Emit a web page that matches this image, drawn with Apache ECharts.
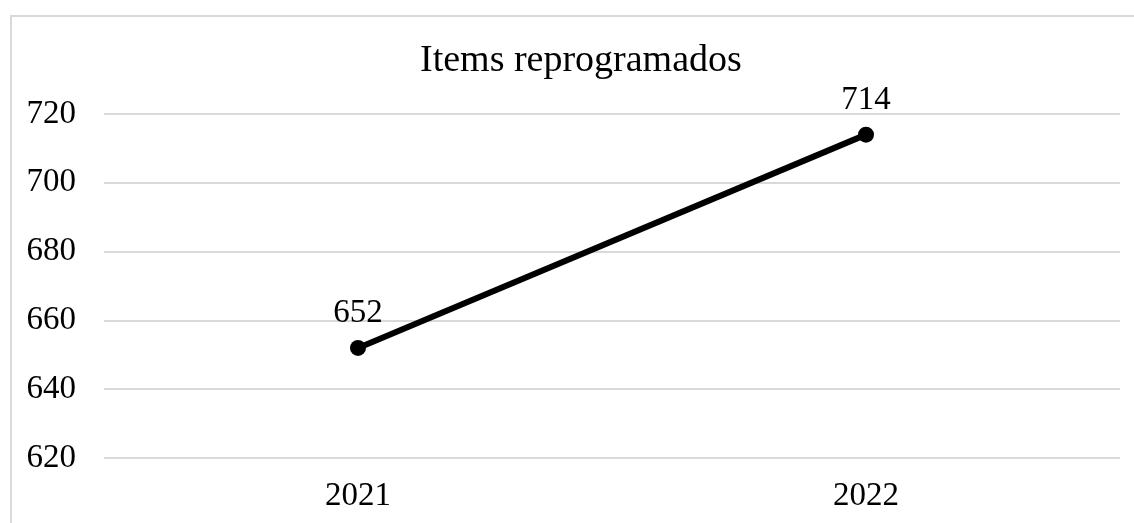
<!DOCTYPE html>
<html>
<head>
<meta charset="utf-8">
<script src="https://cdn.jsdelivr.net/npm/echarts@6/dist/echarts.min.js"></script>
<style>
  html, body { margin: 0; padding: 0; background: #fff; }
  #chart { width: 1134px; height: 523px; }
</style>
</head>
<body>
<div id="chart"></div>
<script>
const years = ['2021', '2022']
const items = [652, 714]

const serif = '"Liberation Serif", "Times New Roman", serif'
const chart = echarts.init(document.getElementById('chart'))
chart.setOption({
  backgroundColor: '#fff',
  animation: false,
  graphic: [{
    type: 'rect', silent: true, z: -1,
    shape: { x: 11, y: 16, width: 1200, height: 600 },
    style: { fill: 'none', stroke: '#d9d9d9', lineWidth: 2 },
  }],
  title: {
    text: 'Items reprogramados', left: 420, top: 42, padding: 0,
    textStyle: { fontFamily: serif, fontSize: 38, fontWeight: 'normal', color: '#000' },
  },
  grid: { left: 104, right: 14, top: 114, bottom: 65 },
  xAxis: {
    type: 'category', data: years, boundaryGap: true,
    axisLine: { show: false }, axisTick: { show: false },
    axisLabel: { fontFamily: serif, fontSize: 33, color: '#000', margin: 22 },
  },
  yAxis: {
    type: 'value', min: 620, max: 720, interval: 20,
    axisLine: { show: false }, axisTick: { show: false },
    splitLine: { lineStyle: { color: '#d9d9d9', width: 2 } },
    axisLabel: { fontFamily: serif, fontSize: 33, color: '#000', margin: 28 },
  },
  series: [{
    type: 'line', data: items,
    lineStyle: { color: '#000', width: 6 },
    itemStyle: { color: '#000' },
    symbol: 'circle', symbolSize: 16,
    label: {
      show: true, position: 'top', distance: 10,
      fontFamily: serif, fontSize: 33, color: '#000',
    },
  }],
})
</script>
</body>
</html>
